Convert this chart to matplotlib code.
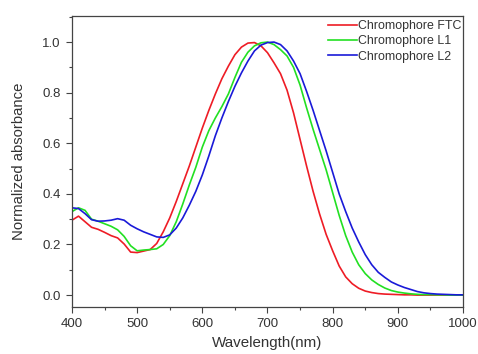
import numpy as np
import matplotlib
matplotlib.use('Agg')
import matplotlib.pyplot as plt
from matplotlib.ticker import MultipleLocator

plt.rcParams['font.family'] = ['Liberation Sans', 'DejaVu Sans']

###############################################################################
# Data
###############################################################################
wavelength = np.arange(400, 1001, 10)
absFTC = [
    0.296, 0.312, 0.290, 0.268, 0.260, 0.248, 0.235, 0.226, 0.202, 0.170,
    0.168, 0.174, 0.180, 0.204, 0.250, 0.305, 0.370, 0.440, 0.510, 0.585,
    0.660, 0.730, 0.795, 0.855, 0.905, 0.950, 0.980, 0.996, 0.998, 0.985,
    0.958, 0.918, 0.875, 0.810, 0.720, 0.615, 0.510, 0.410, 0.320, 0.240,
    0.175, 0.115, 0.072, 0.045, 0.027, 0.016, 0.010, 0.006, 0.004, 0.003,
    0.002, 0.001, 0.001, 0.000, 0.000, 0.000, 0.000, 0.000, 0.000, 0.000,
    0.000,
]
absL1 = [
    0.330, 0.345, 0.335, 0.300, 0.292, 0.282, 0.272, 0.258, 0.232, 0.195,
    0.175, 0.178, 0.180, 0.183, 0.200, 0.235, 0.290, 0.360, 0.435, 0.505,
    0.585, 0.650, 0.700, 0.745, 0.795, 0.860, 0.920, 0.960, 0.985, 0.997,
    1.000, 0.990, 0.970, 0.945, 0.900, 0.830, 0.740, 0.655, 0.575, 0.495,
    0.405, 0.315, 0.235, 0.170, 0.120, 0.085, 0.060, 0.042, 0.028, 0.018,
    0.012, 0.008, 0.005, 0.003, 0.002, 0.002, 0.001, 0.001, 0.000, 0.000,
    0.000,
]
absL2 = [
    0.345, 0.342, 0.322, 0.298, 0.292, 0.293, 0.296, 0.302, 0.296, 0.276,
    0.262, 0.250, 0.240, 0.230, 0.228, 0.238, 0.265, 0.305, 0.355, 0.410,
    0.475, 0.550, 0.630, 0.700, 0.765, 0.825, 0.878, 0.925, 0.965, 0.988,
    0.998, 1.000, 0.990, 0.965, 0.925, 0.875, 0.805, 0.730, 0.650, 0.570,
    0.485, 0.400, 0.330, 0.265, 0.210, 0.160, 0.120, 0.090, 0.070, 0.052,
    0.040, 0.030, 0.022, 0.014, 0.009, 0.006, 0.004, 0.003, 0.002, 0.001,
    0.001,
]
labels = ['Chromophore FTC', 'Chromophore L1', 'Chromophore L2']
colors = ['#ee1c25', '#22e022', '#1a1ad8']

###############################################################################
# Plot
###############################################################################
(fig, ax) = plt.subplots(figsize=(4.78, 3.54), dpi=100)
ax.set_position([0.1506, 0.1328, 0.8180, 0.8220])
for (y, lab, col) in zip((absFTC, absL1, absL2), labels, colors):
    ax.plot(wavelength, y, color=col, lw=1.2, label=lab,
            solid_joinstyle='round')
# Styling ---------------------------------------------------------------------
txtCol = '#333333'
ax.set_xlim(400, 1000); ax.set_ylim(-0.047, 1.103)
ax.xaxis.set_major_locator(MultipleLocator(100))
ax.xaxis.set_minor_locator(MultipleLocator(50))
ax.yaxis.set_major_locator(MultipleLocator(0.2))
ax.yaxis.set_minor_locator(MultipleLocator(0.1))
ax.yaxis.set_major_formatter(lambda v, p: '{:.1f}'.format(v))
ax.tick_params(which='both', direction='out', colors='#444444',
               labelcolor=txtCol, labelsize=9.5)
ax.tick_params(which='major', length=4, width=0.8, pad=4)
ax.tick_params(which='minor', length=2.5, width=0.8)
for s in ax.spines.values():
    s.set_color('#444444'); s.set_linewidth(0.9)
ax.set_xlabel('Wavelength(nm)', fontsize=10.9, color=txtCol, labelpad=4)
ax.set_ylabel('Normalized absorbance', fontsize=10.7, color=txtCol,
              labelpad=12)
ax.legend(
    loc='upper right', bbox_to_anchor=(1.0, 0.99), frameon=False,
    fontsize=8.9, handlelength=2.3, handletextpad=0.15, labelspacing=0.27,
    borderaxespad=0.0, borderpad=0.1, labelcolor=txtCol
)
# Export ----------------------------------------------------------------------
fig.savefig('out.png', dpi=100, facecolor='w')
